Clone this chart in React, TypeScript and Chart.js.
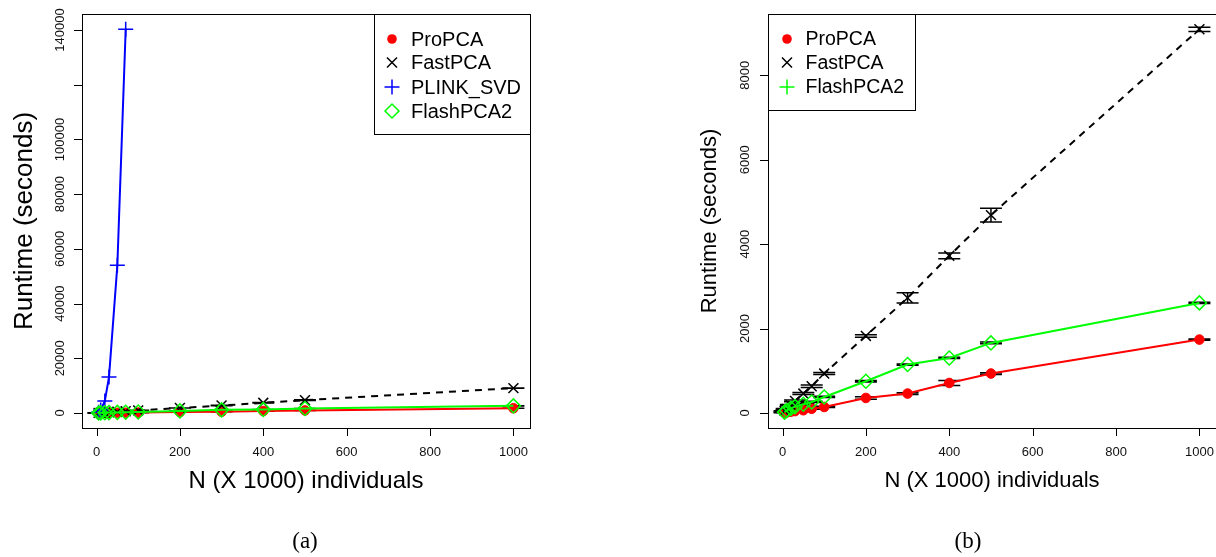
import React, { useEffect, useRef } from 'react';
import { Chart, registerables } from 'chart.js';

Chart.register(...registerables);

// ---- data (runtime in seconds vs N x 1000 individuals) ----
const nValues = [5, 10, 20, 30, 50, 70, 100, 200, 300, 400, 500, 1000];
const proPcaTime = [8, 15, 30, 45, 65, 100, 142, 356, 460, 711, 934, 1739];
const proPcaErr = [2, 3, 5, 8, 10, 12, 15, 30, 20, 60, 20, 15];
const fastPcaTime = [50, 95, 185, 285, 460, 633, 934, 1826, 2727, 3723, 4688, 9091];
const fastPcaErr = [5, 10, 15, 20, 25, 30, 25, 30, 120, 70, 165, 50];
const flashPca2Time = [20, 60, 110, 150, 206, 261, 379, 752, 1148, 1304, 1660, 2608];
const flashPca2Err = [5, 8, 10, 12, 15, 15, 15, 20, 15, 15, 20, 15];
const plinkN = [5, 10, 20, 30, 50, 70];
const plinkTime = [250, 1100, 4400, 13200, 54000, 140300];

const xTicks = [0, 200, 400, 600, 800, 1000];
const leftYTicks = [0, 20000, 40000, 60000, 80000, 100000, 120000, 140000];
const leftYTickLabels = ['0', '20000', '40000', '60000', '80000', '100000', '', '140000'];
const rightYTicks = [0, 2000, 4000, 6000, 8000];
const rightYTickLabels = ['0', '2000', '4000', '6000', '8000'];
const xTitle = 'N (X 1000) individuals';
const yTitle = 'Runtime (seconds)';
const leftLegendLabels = ['ProPCA', 'FastPCA', 'PLINK_SVD', 'FlashPCA2'];
const rightLegendLabels = ['ProPCA', 'FastPCA', 'FlashPCA2'];
const captions = ['(a)', '(b)'];

const SANS = '"Liberation Sans", Arial, Helvetica, sans-serif';
const RED = '#ff0000';
const GREEN = '#00ff00';
const BLUE = '#0000ff';
const BLACK = '#000000';

function pts(xs: number[], ys: number[]) {
  return xs.map((x, i) => ({ x, y: ys[i] }));
}

function drawSymbol(ctx: CanvasRenderingContext2D, sym: string, x: number, y: number, color: string) {
  ctx.save();
  ctx.strokeStyle = color;
  ctx.fillStyle = color;
  ctx.lineWidth = 1.5;
  ctx.beginPath();
  if (sym === 'circle') {
    ctx.arc(x, y, 4.8, 0, Math.PI * 2);
    ctx.fill();
  } else if (sym === 'crossRot') {
    const d = 5;
    ctx.moveTo(x - d, y - d); ctx.lineTo(x + d, y + d);
    ctx.moveTo(x - d, y + d); ctx.lineTo(x + d, y - d);
    ctx.stroke();
  } else if (sym === 'cross') {
    const d = 7.5;
    ctx.moveTo(x - d, y); ctx.lineTo(x + d, y);
    ctx.moveTo(x, y - d); ctx.lineTo(x, y + d);
    ctx.stroke();
  } else if (sym === 'rectRot') {
    const d = 7;
    ctx.moveTo(x - d, y); ctx.lineTo(x, y - d); ctx.lineTo(x + d, y); ctx.lineTo(x, y + d);
    ctx.closePath();
    ctx.stroke();
  }
  ctx.restore();
}

const rPlot: any = {
  id: 'rPlot',
  beforeDatasetsDraw(chart: any, _args: any, o: any) {
    const ctx = chart.ctx;
    const xs = chart.scales.x;
    const ys = chart.scales.y;
    ctx.save();
    ctx.strokeStyle = BLACK;
    ctx.lineWidth = 1.5;
    chart.data.datasets.forEach((ds: any) => {
      if (!ds.errors) return;
      ds.data.forEach((p: any, i: number) => {
        const e = ds.errors[i];
        const px = xs.getPixelForValue(p.x);
        const y1 = ys.getPixelForValue(p.y - e);
        const y2 = ys.getPixelForValue(p.y + e);
        ctx.beginPath();
        ctx.moveTo(px, y1); ctx.lineTo(px, y2);
        ctx.moveTo(px - o.capHalf, y1); ctx.lineTo(px + o.capHalf, y1);
        ctx.moveTo(px - o.capHalf, y2); ctx.lineTo(px + o.capHalf, y2);
        ctx.stroke();
      });
    });
    ctx.restore();
  },
  afterDraw(chart: any, _args: any, o: any) {
    const ctx: CanvasRenderingContext2D = chart.ctx;
    const a = chart.chartArea;
    const xs = chart.scales.x;
    const ys = chart.scales.y;
    ctx.save();
    // plot box
    ctx.strokeStyle = BLACK;
    ctx.lineWidth = 1;
    ctx.strokeRect(Math.round(a.left) + 0.5, Math.round(a.top) + 0.5, Math.round(a.right - a.left), Math.round(a.bottom - a.top));
    // ticks + labels
    ctx.fillStyle = '#111';
    ctx.font = `${o.tickFont}px ${SANS}`;
    ctx.textAlign = 'center';
    ctx.textBaseline = 'middle';
    ctx.beginPath();
    o.xTicks.forEach((v: number) => {
      const px = Math.round(xs.getPixelForValue(v)) + 0.5;
      ctx.moveTo(px, a.bottom);
      ctx.lineTo(px, a.bottom + 8);
    });
    o.yTicks.forEach((v: number) => {
      const py = Math.round(ys.getPixelForValue(v)) + 0.5;
      ctx.moveTo(a.left, py);
      ctx.lineTo(a.left - 8, py);
    });
    ctx.stroke();
    o.xTicks.forEach((v: number) => {
      ctx.fillText(String(v), xs.getPixelForValue(v), o.xLabelY);
    });
    o.yTicks.forEach((v: number, i: number) => {
      const lab = o.yTickLabels[i];
      if (!lab) return;
      ctx.save();
      ctx.translate(o.yLabelX, ys.getPixelForValue(v));
      ctx.rotate(-Math.PI / 2);
      ctx.fillText(lab, 0, 0);
      ctx.restore();
    });
    // axis titles
    ctx.fillStyle = BLACK;
    ctx.font = `${o.xTitleFont}px ${SANS}`;
    ctx.fillText(o.xTitle, (a.left + a.right) / 2, o.xTitleY);
    ctx.save();
    ctx.font = `${o.yTitleFont}px ${SANS}`;
    ctx.translate(o.yTitleX, (a.top + a.bottom) / 2);
    ctx.rotate(-Math.PI / 2);
    ctx.fillText(o.yTitle, 0, 0);
    ctx.restore();
    // legend
    const lg = o.legend;
    ctx.fillStyle = '#fff';
    ctx.fillRect(lg.box[0], lg.box[1], lg.box[2] - lg.box[0], lg.box[3] - lg.box[1]);
    ctx.strokeStyle = BLACK;
    ctx.lineWidth = 1;
    ctx.strokeRect(lg.box[0] + 0.5, lg.box[1] + 0.5, lg.box[2] - lg.box[0], lg.box[3] - lg.box[1]);
    ctx.font = `${lg.font}px ${SANS}`;
    ctx.textAlign = 'left';
    lg.labels.forEach((lab: string, i: number) => {
      const y = lg.rows[i];
      drawSymbol(ctx, lg.syms[i], lg.symX, y, lg.colors[i]);
      ctx.fillStyle = BLACK;
      ctx.fillText(lab, lg.textX, y + 1);
    });
    ctx.restore();
  },
};

function ds(label: string, data: any[], color: string, style: string, radius: number, extra: any) {
  return {
    label,
    data,
    borderColor: color,
    backgroundColor: color,
    borderWidth: 2,
    tension: 0,
    fill: false,
    pointStyle: style,
    pointRadius: radius,
    pointHoverRadius: radius,
    pointBorderColor: color,
    pointBackgroundColor: style === 'circle' ? color : 'rgba(0,0,0,0)',
    pointBorderWidth: style === 'circle' ? 1 : 1.5,
    ...extra,
  };
}

function makeConfig(p: any): any {
  return {
    type: 'line',
    data: { datasets: p.datasets },
    options: {
      responsive: false,
      animation: false,
      devicePixelRatio: 1,
      layout: { padding: p.padding, autoPadding: false },
      scales: {
        x: { type: 'linear', min: -34.8, max: 1039.8, display: false },
        y: { type: 'linear', min: p.yMin, max: p.yMax, display: false },
      },
      plugins: {
        legend: { display: false },
        tooltip: { enabled: false },
        rPlot: p.rPlot,
      },
    },
    plugins: [rPlot],
  };
}

export default function App() {
  const leftRef = useRef<HTMLCanvasElement>(null);
  const rightRef = useRef<HTMLCanvasElement>(null);

  useEffect(() => {
    document.body.style.margin = '0';
    const leftSets = [
      ds('FlashPCA2', pts(nValues, flashPca2Time), GREEN, 'rectRot', 7, { errors: flashPca2Err, order: 1 }),
      ds('PLINK_SVD', pts(plinkN, plinkTime), BLUE, 'cross', 7.5, { order: 2 }),
      ds('FastPCA', pts(nValues, fastPcaTime), BLACK, 'crossRot', 7, { errors: fastPcaErr, borderDash: [7, 6], order: 3 }),
      ds('ProPCA', pts(nValues, proPcaTime), RED, 'circle', 4.8, { errors: proPcaErr, order: 4 }),
    ];
    const rightSets = [
      ds('FlashPCA2', pts(nValues, flashPca2Time), GREEN, 'rectRot', 7, { errors: flashPca2Err, order: 1 }),
      ds('FastPCA', pts(nValues, fastPcaTime), BLACK, 'crossRot', 7, { errors: fastPcaErr, borderDash: [7, 6], order: 2 }),
      ds('ProPCA', pts(nValues, proPcaTime), RED, 'circle', 4.8, { errors: proPcaErr, order: 3 }),
    ];
    const c1 = new Chart(leftRef.current as HTMLCanvasElement, makeConfig({
      datasets: leftSets,
      padding: { left: 82, right: 110, top: 14, bottom: 129 },
      yMin: -5487,
      yMax: 145878,
      rPlot: {
        capHalf: 11,
        xTicks,
        yTicks: leftYTicks,
        yTickLabels: leftYTickLabels,
        tickFont: 13,
        xLabelY: 452,
        yLabelX: 60.5,
        xTitle,
        xTitleFont: 24,
        xTitleY: 481,
        yTitle,
        yTitleFont: 26,
        yTitleX: 25,
        legend: {
          box: [374, 14, 530, 134],
          symX: 392,
          textX: 411,
          rows: [39, 62.5, 87, 111],
          font: 20,
          labels: leftLegendLabels,
          syms: ['circle', 'crossRot', 'cross', 'rectRot'],
          colors: [RED, BLACK, BLUE, GREEN],
        },
      },
    }));
    const c2 = new Chart(rightRef.current as HTMLCanvasElement, makeConfig({
      datasets: rightSets,
      padding: { left: 128, right: 0, top: 14, bottom: 129 },
      yMin: -356,
      yMax: 9453,
      rPlot: {
        capHalf: 11,
        xTicks,
        yTicks: rightYTicks,
        yTickLabels: rightYTickLabels,
        tickFont: 13,
        xLabelY: 452,
        yLabelX: 105,
        xTitle,
        xTitleFont: 22,
        xTitleY: 481,
        yTitle,
        yTitleFont: 22,
        yTitleX: 70,
        legend: {
          box: [128, 14, 275, 110],
          symX: 147,
          textX: 165.5,
          rows: [39, 62.5, 87],
          font: 19.5,
          labels: rightLegendLabels,
          syms: ['circle', 'crossRot', 'cross'],
          colors: [RED, BLACK, GREEN],
        },
      },
    }));
    return () => {
      c1.destroy();
      c2.destroy();
    };
  }, []);

  const capStyle: React.CSSProperties = {
    position: 'absolute',
    top: 541,
    transform: 'translate(-50%, -50%)',
    font: '23px "Liberation Serif", "DejaVu Serif", serif',
    color: '#000',
    whiteSpace: 'nowrap',
  };

  return (
    <div style={{ position: 'fixed', left: 0, top: 0, width: 1216, height: 557, background: '#fff', overflow: 'hidden' }}>
      <canvas ref={leftRef} width={640} height={557} style={{ position: 'absolute', left: 0, top: 0 }} />
      <canvas ref={rightRef} width={576} height={557} style={{ position: 'absolute', left: 640, top: 0 }} />
      <div style={{ ...capStyle, left: 305 }}>{captions[0]}</div>
      <div style={{ ...capStyle, left: 968 }}>{captions[1]}</div>
    </div>
  );
}
